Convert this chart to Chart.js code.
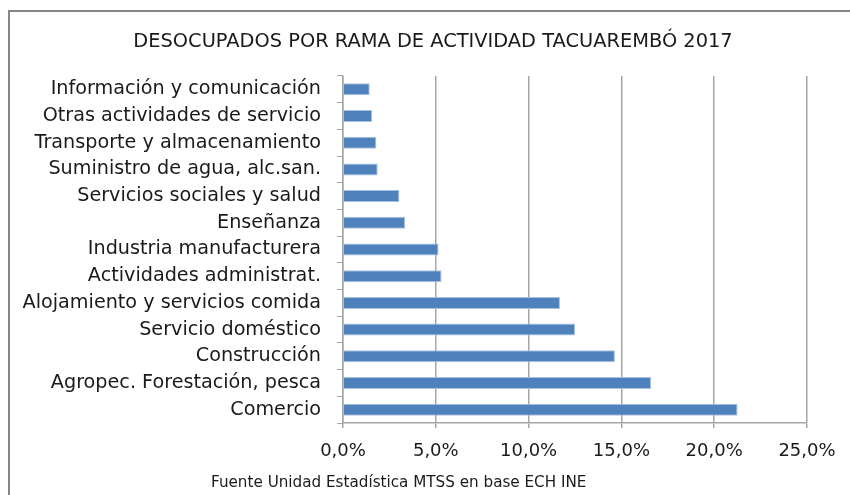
<!DOCTYPE html>
<html>
<head>
<meta charset="utf-8">
<script src="https://cdn.jsdelivr.net/npm/chart.js@4/dist/chart.umd.min.js"></script>
<style>
  html, body { margin: 0; padding: 0; background: #fff; }
  #wrap { width: 850px; height: 495px; position: relative; }
</style>
</head>
<body>
<div id="wrap"><canvas id="chart"></canvas></div>
<script>
// data (share of unemployed, %)
const categories = [
  "Información y comunicación",
  "Otras actividades de servicio",
  "Transporte y almacenamiento",
  "Suministro de agua, alc.san.",
  "Servicios sociales y salud",
  "Enseñanza",
  "Industria manufacturera",
  "Actividades administrat.",
  "Alojamiento y servicios comida",
  "Servicio doméstico",
  "Construcción",
  "Agropec. Forestación, pesca",
  "Comercio"
];
const shares = [1.44, 1.57, 1.8, 1.87, 3.04, 3.35, 5.15, 5.31, 11.69, 12.5, 14.65, 16.6, 21.26];
const xTicks = [0, 5, 10, 15, 20, 25];
const chartTitle = "DESOCUPADOS POR RAMA DE ACTIVIDAD TACUAREMBÓ 2017";
const sourceNote = "Fuente Unidad Estadística MTSS en base ECH INE";

const FONT = "'DejaVu Sans', sans-serif";
const GRID = "#a6a6a6";
const TEXT = "#1a1a1a";

// outer frame, title and source line (the title sits right of centre like the original)
const framePlugin = {
  id: "frame",
  beforeDraw(chart) {
    const ctx = chart.ctx;
    ctx.save();
    ctx.fillStyle = "#fff";
    ctx.fillRect(0, 0, chart.width, chart.height);
    ctx.strokeStyle = "#868686";
    ctx.lineWidth = 2;
    ctx.strokeRect(9, 11, chart.width + 20, chart.height + 20);
    ctx.restore();
  },
  afterDraw(chart) {
    const ctx = chart.ctx;
    ctx.save();
    ctx.fillStyle = TEXT;
    ctx.textBaseline = "middle";
    ctx.font = "19.4px " + FONT;
    ctx.textAlign = "center";
    ctx.fillText(chartTitle, 433, 42);
    ctx.font = "15.2px " + FONT;
    ctx.textAlign = "left";
    ctx.fillText(sourceNote, 211, 483);
    ctx.restore();
  }
};

new Chart(document.getElementById("chart"), {
  type: "bar",
  data: {
    labels: categories,
    datasets: [{
      data: shares,
      backgroundColor: "#4f81bd",
      borderColor: "#a9c1e0",
      borderWidth: 1,
      barPercentage: 0.45,
      categoryPercentage: 1
    }]
  },
  options: {
    indexAxis: "y",
    responsive: true,
    maintainAspectRatio: false,
    animation: false,
    layout: { padding: { left: 0, right: 43, top: 76, bottom: 0 } },
    plugins: {
      legend: { display: false },
      tooltip: { enabled: false },
      title: { display: false }
    },
    scales: {
      x: {
        min: 0,
        max: 25,
        afterBuildTicks(scale) {
          scale.ticks = xTicks.map(v => ({ value: v }));
        },
        afterFit(scale) { scale.height = 72; },
        grid: { color: GRID, lineWidth: 1.5, tickLength: 5, drawTicks: true },
        border: { display: true, color: GRID, width: 1.5 },
        ticks: {
          color: TEXT,
          padding: 13,
          font: { family: FONT, size: 18 },
          callback: v => v.toFixed(1).replace(".", ",") + "%"
        }
      },
      y: {
        afterFit(scale) { scale.width = 343; },
        grid: { drawOnChartArea: false, color: GRID, tickLength: 6, offset: true },
        border: { display: true, color: GRID, width: 1.5 },
        ticks: {
          color: TEXT,
          padding: 16,
          autoSkip: false,
          font: { family: FONT, size: 19.2 }
        }
      }
    }
  },
  plugins: [framePlugin]
});
</script>
</body>
</html>
